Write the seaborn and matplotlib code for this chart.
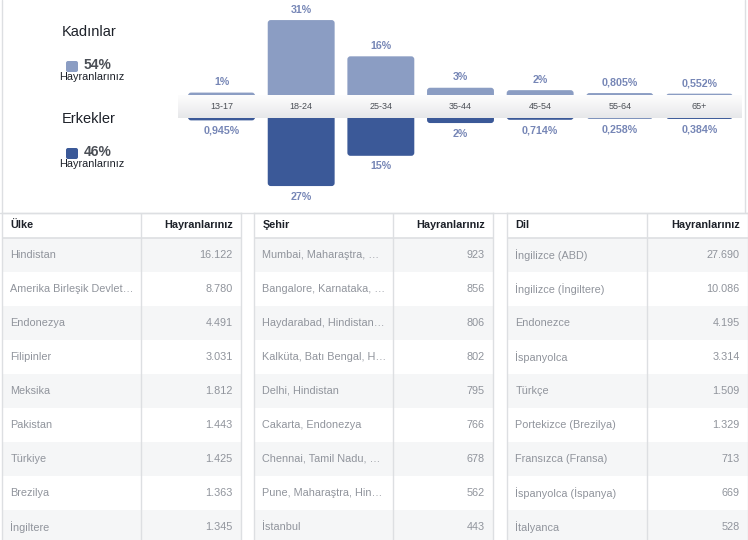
import numpy as np
import pandas as pd
import matplotlib.pyplot as plt
from matplotlib.lines import Line2D
from matplotlib.patches import FancyBboxPatch
import seaborn as sns

# age / gender split (percent of fans)
age_groups = ['13-17', '18-24', '25-34', '35-44', '45-54', '55-64', '65+']
women_pct = [1, 31, 16, 3, 2, 0.805, 0.552]
men_pct = [0.945, 27, 15, 2, 0.714, 0.258, 0.384]
women_total = 54
men_total = 46

# top lists
countries = ['Hindistan', 'Amerika Birleşik Devlet…', 'Endonezya', 'Filipinler', 'Meksika',
             'Pakistan', 'Türkiye', 'Brezilya', 'İngiltere']
country_fans = [16122, 8780, 4491, 3031, 1812, 1443, 1425, 1363, 1345]
cities = ['Mumbai, Maharaştra, …', 'Bangalore, Karnataka, …', 'Haydarabad, Hindistan…',
          'Kalküta, Batı Bengal, H…', 'Delhi, Hindistan', 'Cakarta, Endonezya',
          'Chennai, Tamil Nadu, …', 'Pune, Maharaştra, Hin…', 'İstanbul']
city_fans = [923, 856, 806, 802, 795, 766, 678, 562, 443]
languages = ['İngilizce (ABD)', 'İngilizce (İngiltere)', 'Endonezce', 'İspanyolca', 'Türkçe',
             'Portekizce (Brezilya)', 'Fransızca (Fransa)', 'İspanyolca (İspanya)', 'İtalyanca']
language_fans = [27690, 10086, 4195, 3314, 1509, 1329, 713, 669, 528]

sns.set_style('white')
plt.rcParams['font.family'] = ['Liberation Sans', 'DejaVu Sans']

W, H = 748, 540
fig = plt.figure(figsize=(W / 100, H / 100), dpi=100)

def rect(x0, y0, x1, y1):
    # pixel box (top-left origin) -> figure fraction
    return [x0 / W, 1 - y1 / H, (x1 - x0) / W, (y1 - y0) / H]

def pct_label(v):
    return f"{v:g}".replace('.', ',') + '%'

def thousands(v):
    return f"{v:,}".replace(',', '.')

C_WOMEN = '#8b9dc3'
C_MEN = '#3b5998'
C_LABEL = '#7686b6'
BORDER = '#dddfe2'

x_left, x_right = 181.7, 739.3
px_per_cat = (x_right - x_left) / 7
band_top, band_bot = 95, 118

def round_bars(ax, px_per_y, color):
    # swap the plain bars for rounded ones; the part below zero is clipped away
    r = 3 / px_per_cat
    for p in list(ax.patches):
        x, w, h = p.get_x(), p.get_width(), p.get_height()
        p.remove()
        ax.add_patch(FancyBboxPatch((x, -4), w, h + 4, boxstyle=f"round,pad=0,rounding_size={r}",
                                    mutation_aspect=px_per_cat / px_per_y, fc=color, ec='none'))

# ---- bars ----
ax_f = fig.add_axes(rect(x_left, 0, x_right, band_top))
sns.barplot(x=age_groups, y=women_pct, color=C_WOMEN, saturation=1, width=0.84, ax=ax_f)
ax_f.set_ylim(0, 39.3)
ax_f.bar_label(ax_f.containers[0], labels=[pct_label(v) for v in women_pct], padding=4,
               color=C_LABEL, fontsize=7.7, fontweight='bold')
round_bars(ax_f, band_top / 39.3, C_WOMEN)

ax_m = fig.add_axes(rect(x_left, band_bot, x_right, 210))
sns.barplot(x=age_groups, y=men_pct, color=C_MEN, saturation=1, width=0.84, ax=ax_m)
ax_m.set_ylim(36.5, 0)
ax_m.bar_label(ax_m.containers[0], labels=[pct_label(v) for v in men_pct], padding=4,
               color=C_LABEL, fontsize=7.7, fontweight='bold')
round_bars(ax_m, (210 - band_bot) / 36.5, C_MEN)

for ax in (ax_f, ax_m):
    ax.set_xlim(-0.5, 6.5)
    ax.axis('off')
    ax.patch.set_alpha(0)

# grey band with age labels
ax_b = fig.add_axes(rect(178, band_top, 742, band_bot))
xl = (-0.5 - (x_left - 178) / px_per_cat, 6.5 + (742 - x_right) / px_per_cat)
grad = np.linspace(0, 1, 50).reshape(-1, 1)
ax_b.imshow(grad, aspect='auto', cmap=sns.blend_palette(['#fdfdfd', '#f3f3f4', '#e6e7e9'], as_cmap=True),
            extent=(xl[0], xl[1], 0, 1), origin='upper')
ax_b.set_xlim(*xl)
ax_b.set_ylim(0, 1)
for i, g in enumerate(age_groups):
    ax_b.text(i, 0.5, g, ha='center', va='center', fontsize=6.5, color='#4b4f56')
ax_b.axis('off')

# legend on the left
fig.text(89 / W, 1 - 32 / H, 'Kadınlar', ha='center', va='center', fontsize=10.5, color='#1d2129')
fig.text(89 / W, 1 - 119 / H, 'Erkekler', ha='center', va='center', fontsize=10.5, color='#1d2129')
for y_sq, col, tot in ((61, C_WOMEN, women_total), (148, C_MEN, men_total)):
    fig.add_artist(FancyBboxPatch((66 / W, 1 - (y_sq + 11) / H), 12 / W, 11 / H,
                                  boxstyle=f"round,pad=0,rounding_size={2 / W}",
                                  mutation_aspect=W / H, fc=col, ec='none',
                                  transform=fig.transFigure))
    fig.text(84 / W, 1 - (y_sq + 4) / H, f'{tot}%', ha='left', va='center', fontsize=10,
             fontweight='bold', color='#4b4f56')
    fig.text(92 / W, 1 - (y_sq + 16) / H, 'Hayranlarınız', ha='center', va='center',
             fontsize=7.8, color='#1d2129')

# panel borders
fig.add_artist(Line2D([1.5 / W, 1.5 / W], [1 - 212 / H, 1], color=BORDER, lw=1))
fig.add_artist(Line2D([745 / W, 745 / W], [1 - 212 / H, 1], color=BORDER, lw=1))
fig.add_artist(Line2D([0, 1], [1 - 212.5 / H, 1 - 212.5 / H], color=BORDER, lw=1))

# ---- tables ----
HDR = 25 / 34

def draw_table(x0, x1, title, names, fans):
    ax = fig.add_axes(rect(x0, 213, x1, 213 + 25 + 34 * len(names)))
    ax.set_xlim(0, 1)
    ax.set_ylim(len(names), -HDR)
    for i, (n, v) in enumerate(zip(names, fans)):
        if i % 2 == 0:
            ax.axhspan(i, i + 1, color='#f5f6f7', lw=0)
        ax.text(0.035, i + 0.5, n, ha='left', va='center', fontsize=7.8, color='#90949c')
        ax.text(0.965, i + 0.5, thousands(v), ha='right', va='center', fontsize=7.8, color='#90949c')
    ax.text(0.035, -HDR / 2, title, ha='left', va='center', fontsize=7.8, fontweight='bold', color='#1d2129')
    ax.text(0.965, -HDR / 2, 'Hayranlarınız', ha='right', va='center', fontsize=7.8,
            fontweight='bold', color='#1d2129')
    ax.axhline(0, color=BORDER, lw=1.2)
    ax.axvline(0.58, color=BORDER, lw=1)
    ax.set_xticks([])
    ax.set_yticks([])
    for s in ('left', 'right', 'top'):
        ax.spines[s].set_color(BORDER)
        ax.spines[s].set_linewidth(1)
    ax.spines['bottom'].set_visible(False)

draw_table(2, 241, 'Ülke', countries, country_fans)
draw_table(254, 493, 'Şehir', cities, city_fans)
draw_table(507, 748, 'Dil', languages, language_fans)

fig.savefig('out.png', dpi=100)
